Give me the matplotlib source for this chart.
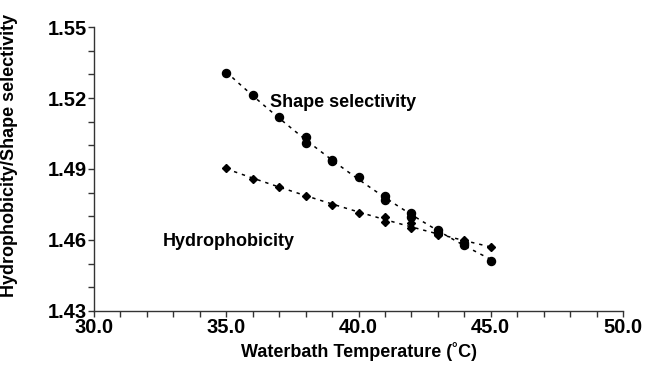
import numpy as np
import matplotlib
matplotlib.use("Agg")
import matplotlib.pyplot as plt
from matplotlib.ticker import MultipleLocator, FormatStrFormatter

# Shape selectivity (circles), duplicate runs at some temperatures
shape_temp = [35, 36, 37, 38, 38, 39, 39, 40, 41, 41, 42, 42, 43, 43, 44, 44, 45]
shape_val = [1.5307, 1.5213, 1.5119, 1.5034, 1.5011, 1.4940, 1.4932, 1.4865,
             1.4786, 1.4769, 1.4713, 1.4699, 1.4642, 1.4630, 1.4588, 1.4579, 1.4513]

# Hydrophobicity (diamonds)
hydro_temp = [35, 36, 37, 38, 39, 40, 41, 41, 42, 42, 43, 43, 44, 44, 45]
hydro_val = [1.4906, 1.4858, 1.4823, 1.4786, 1.4748, 1.4715, 1.4699, 1.4677,
             1.4671, 1.4650, 1.4631, 1.4621, 1.4600, 1.4590, 1.4570]

yticks = [1.43, 1.46, 1.49, 1.52, 1.55]
xticks = [30, 35, 40, 45, 50]

plt.rcParams['font.family'] = ['Liberation Sans', 'DejaVu Sans']
plt.rcParams['font.weight'] = 'bold'

fig = plt.figure(figsize=(6.47, 3.72), dpi=100)
ax = fig.add_axes([0.1453, 0.164, 0.8177, 0.7634])

ax.plot(shape_temp, shape_val, 'o', color='black', markersize=5.8, zorder=3)
ax.plot(hydro_temp, hydro_val, 'D', color='black', markersize=4.3, zorder=3)

# trend lines (quadratic fit of the points)
xs = np.linspace(35, 45, 100)
for t, v in [(shape_temp, shape_val), (hydro_temp, hydro_val)]:
    c = np.polyfit(t, v, 2)
    ax.plot(xs, np.polyval(c, xs), color='black', lw=1.1,
            linestyle=(0, (2.2, 3.2)), zorder=2)

ax.text(36.65, 1.5179, "Shape selectivity", fontsize=13, fontweight='bold',
        va='center', ha='left')
ax.text(32.6, 1.4592, "Hydrophobicity", fontsize=13, fontweight='bold',
        va='center', ha='left')

ax.set_xlim(30, 50)
ax.set_ylim(1.43, 1.55)
ax.set_xticks(xticks)
ax.set_yticks(yticks)
ax.xaxis.set_minor_locator(MultipleLocator(1))
ax.yaxis.set_minor_locator(MultipleLocator(0.01))
ax.xaxis.set_major_formatter(FormatStrFormatter('%.1f'))
ax.yaxis.set_major_formatter(FormatStrFormatter('%.2f'))

ax.tick_params(which='both', direction='out', length=4, width=1,
               labelsize=14.5, pad=1, color='#333333')
for lab in ax.get_xticklabels() + ax.get_yticklabels():
    lab.set_fontweight('bold')

for s in ['top', 'right']:
    ax.spines[s].set_visible(False)
for s in ['left', 'bottom']:
    ax.spines[s].set_linewidth(1)
    ax.spines[s].set_color('#333333')

ax.set_xlabel("Waterbath Temperature (˚C)", fontsize=13, fontweight='bold', labelpad=4)
ax.set_ylabel("Hydrophobicity/Shape selectivity", fontsize=13, fontweight='bold')
ax.yaxis.set_label_coords(-0.1437, 0.549)

fig.savefig("out.png", dpi=100)
